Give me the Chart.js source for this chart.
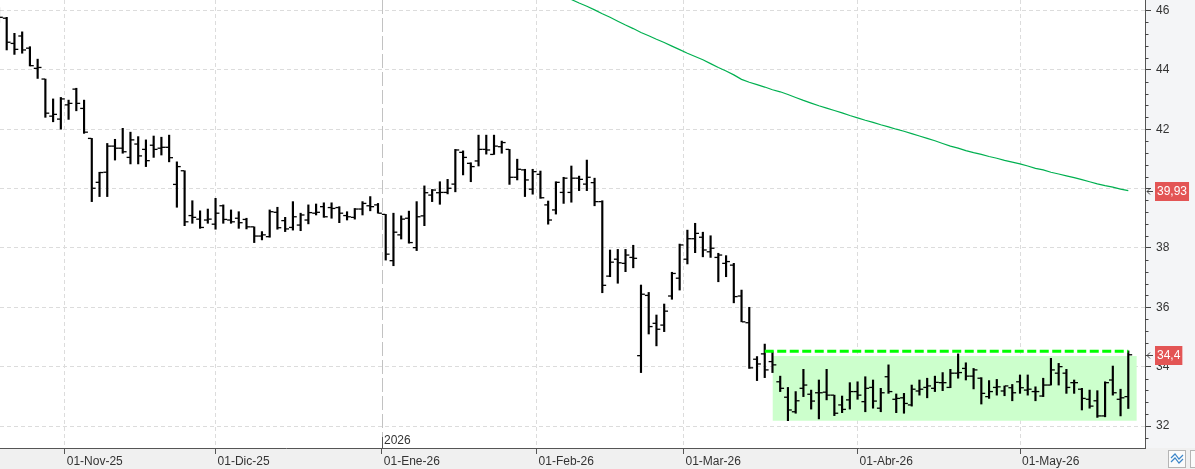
<!DOCTYPE html>
<html>
<head>
<meta charset="utf-8">
<script src="https://cdn.jsdelivr.net/npm/chart.js@4.4.1/dist/chart.umd.min.js"></script>
<style>
html,body{margin:0;padding:0;background:#fff;overflow:hidden}
#wrap{width:1195px;height:469px;position:relative}
canvas{display:block}
</style>
</head>
<body>
<div id="wrap"><canvas id="c" width="1195" height="469"></canvas></div>
<script>
// ---------- DATA ----------
const dates = [
 '2025-10-21','2025-10-22','2025-10-23','2025-10-24','2025-10-27','2025-10-28','2025-10-29','2025-10-30','2025-10-31',
 '2025-11-03','2025-11-04','2025-11-05','2025-11-06','2025-11-07','2025-11-10','2025-11-11','2025-11-12','2025-11-13','2025-11-14',
 '2025-11-17','2025-11-18','2025-11-19','2025-11-20','2025-11-21','2025-11-24','2025-11-25','2025-11-26','2025-11-28',
 '2025-12-01','2025-12-02','2025-12-03','2025-12-04','2025-12-05','2025-12-08','2025-12-09','2025-12-10','2025-12-11','2025-12-12',
 '2025-12-15','2025-12-16','2025-12-17','2025-12-18','2025-12-19','2025-12-22','2025-12-23','2025-12-24','2025-12-26','2025-12-29','2025-12-30','2025-12-31',
 '2026-01-02','2026-01-05','2026-01-06','2026-01-07','2026-01-08','2026-01-09','2026-01-12','2026-01-13','2026-01-14','2026-01-15','2026-01-16',
 '2026-01-20','2026-01-21','2026-01-22','2026-01-23','2026-01-26','2026-01-27','2026-01-28','2026-01-29','2026-01-30',
 '2026-02-02','2026-02-03','2026-02-04','2026-02-05','2026-02-06','2026-02-09','2026-02-10','2026-02-11','2026-02-12','2026-02-13',
 '2026-02-17','2026-02-18','2026-02-19','2026-02-20','2026-02-23','2026-02-24','2026-02-25','2026-02-26','2026-02-27',
 '2026-03-02','2026-03-03','2026-03-04','2026-03-05','2026-03-06','2026-03-09','2026-03-10','2026-03-11','2026-03-12','2026-03-13',
 '2026-03-16','2026-03-17','2026-03-18','2026-03-19','2026-03-20','2026-03-23','2026-03-24','2026-03-25','2026-03-26','2026-03-27','2026-03-30','2026-03-31',
 '2026-04-01','2026-04-02','2026-04-06','2026-04-07','2026-04-08','2026-04-09','2026-04-10','2026-04-13','2026-04-14','2026-04-15','2026-04-16','2026-04-17',
 '2026-04-20','2026-04-21','2026-04-22','2026-04-23','2026-04-24','2026-04-27','2026-04-28','2026-04-29','2026-04-30',
 '2026-05-01','2026-05-04','2026-05-05','2026-05-06','2026-05-07','2026-05-08','2026-05-11','2026-05-12','2026-05-13','2026-05-14','2026-05-15',
 '2026-05-18','2026-05-19','2026-05-20','2026-05-21'
];

const open = [45.95,
 45.74,44.89,45.14,44.73,44.05,43.69,42.44,42.34,42.82,43.35,42.70,
 41.69,40.21,40.55,41.43,41.36,41.05,41.50,41.32,41.46,41.36,41.39,
 40.14,40.60,39.09,38.97,38.94,38.80,39.42,38.94,39.00,38.96,38.71,
 38.40,38.38,39.20,38.92,38.69,38.77,38.94,39.17,39.39,39.36,39.36,
 39.09,39.03,39.31,39.42,39.45,39.13,37.57,38.44,39.00,38.01,39.08,
 39.78,39.86,39.87,40.15,41.22,40.85,40.93,41.32,41.15,41.41,41.32,
 40.38,40.63,39.98,40.48,39.45,39.28,39.87,39.87,40.35,40.15,40.20,
 39.56,37.05,37.62,37.48,37.68,34.37,36.40,35.46,35.40,36.38,36.98,
 37.62,38.31,38.36,37.87,37.68,37.48,37.42,36.38,35.48,34.25,34.43,
 34.17,33.49,32.97,32.48,33.27,33.07,33.12,33.14,33.04,32.71,32.88,
 33.16,32.82,33.30,32.60,33.66,32.90,32.95,32.71,33.18,33.30,33.27,
 33.46,33.30,33.78,33.94,33.68,33.61,32.99,33.30,33.18,33.29,33.49,
 33.21,33.16,33.01,33.38,33.78,33.78,33.46,33.24,32.90,32.85,32.34,
 33.55,32.90,32.99];

const high = [46.10,
 45.77,45.23,45.28,44.78,44.36,43.69,43.02,43.07,42.98,43.38,42.98,
 41.69,40.55,41.52,41.66,42.03,41.90,41.75,41.64,41.77,41.73,41.80,
 40.90,40.60,39.59,39.25,39.31,39.67,39.45,39.28,39.22,39.00,38.71,
 38.55,39.28,39.37,39.03,39.56,39.17,39.45,39.48,39.52,39.52,39.39,
 39.22,39.33,39.56,39.73,39.50,39.13,39.17,39.08,39.24,39.56,40.09,
 39.97,40.23,40.31,41.32,41.27,40.87,41.80,41.80,41.80,41.60,41.32,
 40.99,40.65,40.65,40.59,39.58,40.23,40.38,40.76,40.42,40.96,40.35,
 39.59,37.93,37.95,37.95,38.09,36.75,36.50,35.74,36.11,37.18,38.13,
 38.60,38.83,38.53,38.41,37.82,37.74,37.48,36.58,36.00,34.34,34.76,
 34.50,33.68,33.30,33.16,33.91,33.21,33.55,33.91,33.04,33.01,33.46,
 33.49,33.66,33.55,33.27,34.06,33.08,33.10,33.38,33.55,33.61,33.68,
 33.80,33.91,34.43,34.13,33.94,33.63,33.53,33.57,33.35,33.40,33.72,
 33.72,33.32,33.61,34.28,34.11,33.91,33.55,33.27,33.21,33.19,33.49,
 34.02,33.24,34.53];

const low = [45.60,
 44.67,44.52,44.56,44.13,43.71,42.40,42.25,42.00,42.33,42.62,41.86,
 39.56,39.73,39.73,40.96,41.19,40.83,40.83,40.74,41.05,41.13,40.90,
 39.37,38.75,38.83,38.66,38.83,38.63,38.83,38.83,38.66,38.64,38.18,
 38.27,38.36,38.63,38.55,38.60,38.58,38.81,39.11,39.03,39.00,38.85,
 38.94,38.97,39.11,39.25,39.17,37.59,37.40,38.30,38.16,37.91,38.75,
 39.56,39.47,39.82,39.89,40.46,40.23,40.76,41.16,41.15,41.19,40.14,
 40.29,39.73,39.81,39.67,38.80,39.14,39.50,39.54,39.93,39.93,39.42,
 36.49,37.03,36.81,37.20,37.33,33.80,35.10,34.70,35.18,36.27,36.58,
 37.46,37.84,37.70,37.68,36.86,37.03,36.15,35.51,33.94,33.53,33.63,
 33.80,33.16,32.18,32.43,32.99,32.57,32.24,32.88,32.35,32.45,32.57,
 32.90,32.48,32.60,32.48,33.10,32.45,32.43,32.67,33.04,32.95,33.16,
 33.19,33.29,33.61,33.55,33.25,32.74,32.93,33.04,33.02,32.85,33.10,
 33.04,32.85,32.99,33.38,33.38,33.10,33.10,32.54,32.60,32.29,32.31,
 33.04,32.34,32.59];

const close = [45.77,
 44.93,44.69,44.67,44.14,44.08,42.54,42.50,43.02,42.87,42.87,41.90,
 40.01,40.54,41.43,41.36,41.24,41.64,41.10,40.94,41.32,41.39,41.04,
 40.74,38.88,39.03,38.69,38.97,39.17,38.96,38.88,38.85,38.71,38.40,
 38.44,39.22,38.68,38.64,39.05,39.11,39.19,39.20,39.05,39.33,39.17,
 39.05,39.31,39.50,39.39,39.17,37.79,38.53,38.97,38.18,39.05,39.86,
 39.95,39.87,40.01,41.30,41.05,40.74,41.32,41.30,41.43,41.55,40.38,
 40.65,40.29,40.57,39.69,38.94,40.21,40.35,40.35,40.31,40.38,39.56,
 36.74,37.52,37.50,37.76,37.65,36.44,35.35,35.26,35.87,37.14,38.10,
 38.31,38.49,37.93,37.99,37.76,37.54,36.36,35.51,33.96,34.09,33.89,
 34.06,33.27,32.54,32.85,33.38,32.84,33.12,33.04,32.43,32.56,33.16,
 33.04,33.27,32.84,33.12,33.16,32.93,32.76,33.24,33.24,33.35,33.47,
 33.46,33.78,33.80,33.68,33.89,33.10,33.16,33.32,33.35,33.12,33.29,
 33.24,33.16,33.38,33.89,34.00,33.30,33.46,32.93,32.67,32.34,33.46,
 33.12,32.95,34.40];

// long moving average: only its visible part (from 2026-02-04) is known
const maVisible = [
 46.60,46.37,46.25,46.14,46.02,45.89,
 45.77,45.64,45.51,45.39,45.26,45.15,45.03,44.92,44.80,44.68,44.56,44.45,44.34,
 44.21,44.08,43.96,43.83,43.68,43.58,43.50,43.42,43.33,43.26,43.17,43.07,42.97,
 42.88,42.79,42.71,42.63,42.55,42.46,42.38,42.30,42.23,42.15,42.08,42.00,41.93,
 41.85,41.77,41.69,41.61,41.52,41.43,41.36,41.28,41.21,41.15,41.08,41.02,40.95,
 40.89,40.83,40.76,40.68,40.63,40.55,40.49,40.43,40.37,40.30,40.23,40.16,40.10,
 40.05,39.98,39.93];
const ma = new Array(dates.length - maVisible.length).fill(null).concat(maVisible);

const monthKeys   = ['2025-11','2025-12','2026-01','2026-02','2026-03','2026-04','2026-05'];
const monthLabels = ['01-Nov-25','01-Dic-25','01-Ene-26','01-Feb-26','01-Mar-26','01-Abr-26','01-May-26'];
const yearLabel = '2026';
const yTickLabels = [32, 34, 36, 38, 40, 42, 44, 46];

const resistanceFrom = '2026-03-16';
const resistanceValue = 34.52;
const zoneFrom = '2026-03-17';
const zoneHigh = 34.36;
const zoneLow = 32.18;

// ---------- DERIVED ----------
const idx = d => dates.indexOf(d);
const monthTicks = monthKeys.map((k, m) => {
  const j = dates.findIndex(d => d.startsWith(k));
  return { value: dates[j].endsWith('-01') ? j : j - 0.5, label: monthLabels[m], key: k };
});
const yearTick = monthTicks.find(t => t.key.startsWith(yearLabel));
const yTicks = [];
for (let v = Math.round((yTickLabels[0] - 0.4) * 10); v <= yTickLabels[yTickLabels.length - 1] * 10; v += 4) yTicks.push(v / 10);
const isMajor = v => Math.abs(v - Math.round(v)) < 1e-6 && yTickLabels.includes(Math.round(v));
const lastIndex = dates.length - 1;
const lastClose = close[lastIndex];
const lastMa = ma[lastIndex];

Chart.defaults.font.family = "'Liberation Sans', Arial, sans-serif";
Chart.defaults.font.size = 12;
Chart.defaults.color = '#333';

const decor = {
  id: 'decor',
  beforeDraw(chart) {
    const c = chart.ctx, a = chart.chartArea;
    c.save();
    c.fillStyle = '#ffffff'; c.fillRect(0, 0, chart.width, chart.height);
    c.fillStyle = '#f4f5f7'; c.fillRect(a.right, 0, chart.width - a.right, chart.height);
    c.fillStyle = '#f0f0f0'; c.fillRect(0, a.bottom, chart.width, chart.height - a.bottom);
    c.restore();
  },
  beforeDatasetsDraw(chart) {
    const c = chart.ctx, a = chart.chartArea, xs = chart.scales.x;
    const x = Math.round(xs.getPixelForValue(yearTick.value)) + 0.5;
    c.save();
    c.strokeStyle = '#c2c2c2'; c.lineWidth = 1; c.setLineDash([14, 4]);
    c.beginPath(); c.moveTo(x, a.top); c.lineTo(x, a.bottom); c.stroke();
    c.restore();
  },
  afterDraw(chart) {
    const c = chart.ctx, a = chart.chartArea, xs = chart.scales.x, ys = chart.scales.y;
    c.save();
    // minor y ticks
    c.strokeStyle = '#444'; c.lineWidth = 1;
    yTicks.forEach(v => {
      if (isMajor(v)) return;
      const y = Math.round(ys.getPixelForValue(v)) + 0.5;
      c.beginPath(); c.moveTo(a.right, y); c.lineTo(a.right + 3.5, y); c.stroke();
    });
    // year marker
    const xy = Math.round(xs.getPixelForValue(yearTick.value)) + 0.5;
    c.strokeStyle = '#555';
    c.beginPath(); c.moveTo(xy, a.bottom - 11); c.lineTo(xy, a.bottom); c.stroke();
    c.fillStyle = '#333'; c.font = "12px 'Liberation Sans', Arial, sans-serif";
    c.textAlign = 'left'; c.textBaseline = 'alphabetic';
    c.fillText(yearLabel, xy + 1.5, a.bottom - 4.5);
    // value boxes
    const boxes = [
      { v: lastMa, t: lastMa.toFixed(2).replace('.', ',') },
      { v: lastClose, t: String(lastClose).replace('.', ',') }
    ];
    boxes.forEach(b => {
      const y = ys.getPixelForValue(b.v);
      const w = c.measureText(b.t).width + 4;
      c.fillStyle = '#e35555';
      c.fillRect(a.right + 10, Math.round(y) - 9, w, 19);
      c.fillStyle = '#ffffff'; c.textBaseline = 'middle';
      c.fillText(b.t, a.right + 12, Math.round(y) + 1);
      const yy = Math.round(y) + 0.5;
      c.strokeStyle = '#444'; c.lineWidth = 1;
      c.beginPath();
      c.moveTo(a.right + 2, yy); c.lineTo(a.right + 8, yy);
      c.moveTo(a.right + 2, yy); c.lineTo(a.right + 5, yy - 3);
      c.moveTo(a.right + 2, yy); c.lineTo(a.right + 5, yy + 3);
      c.stroke();
    });
    // corner buttons
    c.fillStyle = '#fbfbfb'; c.strokeStyle = '#b5b5b5';
    c.fillRect(1168.5, 450.5, 17, 17); c.strokeRect(1168.5, 450.5, 17, 17);
    c.fillRect(1190.5, 450.5, 10, 17); c.strokeRect(1190.5, 450.5, 10, 17);
    c.strokeStyle = '#3d86c9'; c.lineWidth = 1.2;
    c.beginPath(); c.moveTo(1171, 458); c.lineTo(1175, 454); c.lineTo(1179, 459); c.lineTo(1183, 455); c.stroke();
    c.beginPath(); c.moveTo(1171, 462); c.lineTo(1175, 458); c.lineTo(1179, 463); c.lineTo(1183, 459); c.stroke();
    c.restore();
  }
};

new Chart(document.getElementById('c'), {
  type: 'bar',
  data: {
    datasets: [
      { type: 'line', label: 'zone',
        data: [{ x: idx(zoneFrom), y: zoneHigh }, { x: lastIndex + 1.1, y: zoneHigh }],
        fill: { value: zoneLow }, backgroundColor: '#ccffcc', borderWidth: 0, pointRadius: 0, order: 10 },
      { type: 'line', label: 'MA', data: ma.map((v, j) => ({ x: j, y: v })),
        borderColor: '#00b050', borderWidth: 1.2, pointRadius: 0, tension: 0, fill: false, order: 6 },
      { type: 'bar', label: 'range', data: dates.map((d, j) => ({ x: j, y: [low[j], high[j]] })),
        backgroundColor: '#000000', borderWidth: 0, barThickness: 1.5, order: 4 },
      { type: 'scatter', label: 'open', data: open.map((v, j) => ({ x: j - 0.28, y: v })),
        pointStyle: 'line', pointRadius: 1.7, pointBorderColor: '#000', pointBorderWidth: 1.3,
        borderColor: '#000', borderWidth: 1.3, order: 3 },
      { type: 'scatter', label: 'close', data: close.map((v, j) => ({ x: j + 0.28, y: v })),
        pointStyle: 'line', pointRadius: 1.7, pointBorderColor: '#000', pointBorderWidth: 1.3,
        borderColor: '#000', borderWidth: 1.3, order: 3 },
      { type: 'line', label: 'resistance',
        data: [{ x: idx(resistanceFrom), y: resistanceValue }, { x: lastIndex, y: resistanceValue }],
        borderColor: '#00ff00', borderWidth: 3, borderDash: [9, 3.5], pointRadius: 0, fill: false, order: 1 }
    ]
  },
  options: {
    responsive: false, animation: false, devicePixelRatio: 1, events: [],
    layout: { padding: 0, autoPadding: false },
    plugins: { legend: { display: false }, tooltip: { enabled: false } },
    scales: {
      x: {
        type: 'linear', position: 'bottom', min: 0.134, max: 148.16, bounds: 'data', offset: false,
        afterBuildTicks: s => { s.ticks = monthTicks.map(t => ({ value: t.value })); },
        afterFit: s => { s.height = 21; s.paddingLeft = 0; s.paddingRight = 0; },
        grid: {
          offset: false, lineWidth: 1, tickLength: 6, drawTicks: true,
          color: c => (c.tick && c.tick.value === yearTick.value) ? 'rgba(0,0,0,0)' : '#dcdcdc',
          tickColor: '#555'
        },
        border: { display: true, color: '#555', width: 1, dash: [4, 3] },
        ticks: {
          autoSkip: false, maxRotation: 0, minRotation: 0, align: 'start', padding: 0, labelOffset: 2,
          color: '#333', font: { size: 12 },
          callback: (v, i) => monthTicks[i] ? monthTicks[i].label : ''
        }
      },
      y: {
        type: 'linear', position: 'right', min: 31.259, max: 46.353, bounds: 'data',
        afterBuildTicks: s => { s.ticks = yTicks.map(v => ({ value: v })); },
        afterFit: s => { s.width = 50; s.paddingTop = 0; s.paddingBottom = 0; },
        grid: {
          lineWidth: 1, tickLength: 6, drawTicks: true,
          color: c => (c.tick && isMajor(c.tick.value)) ? '#dcdcdc' : 'rgba(0,0,0,0)',
          tickColor: c => (c.tick && isMajor(c.tick.value)) ? '#444' : 'rgba(0,0,0,0)'
        },
        border: { display: true, color: '#555', width: 1, dash: [4, 3] },
        ticks: {
          autoSkip: false, padding: 5, color: '#333', font: { size: 12 },
          callback: v => isMajor(v) ? String(Math.round(v)) : ''
        }
      }
    }
  },
  plugins: [decor]
});
</script>
</body>
</html>
